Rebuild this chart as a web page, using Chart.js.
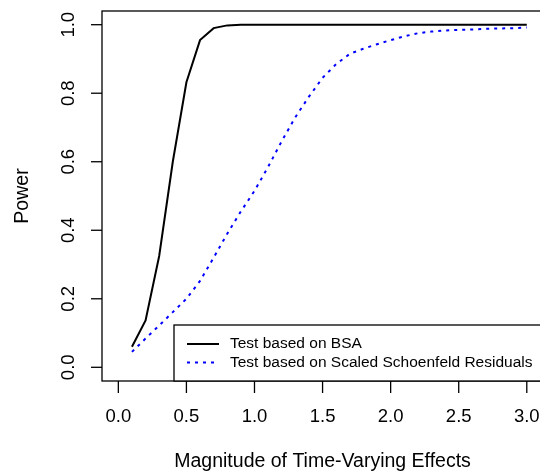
<!DOCTYPE html>
<html>
<head>
<meta charset="utf-8">
<script src="https://cdn.jsdelivr.net/npm/chart.js@4"></script>
<style>
  html, body { margin: 0; padding: 0; background: #fff; }
  #wrap { width: 540px; height: 474px; }
</style>
</head>
<body>
<div id="wrap"><canvas id="myChart" width="540" height="474"></canvas></div>
<script>
// effect sizes (x) and power for each test
const magnitudes = [0.1, 0.2, 0.3, 0.4, 0.5, 0.6, 0.7, 0.8, 0.9, 1.0,
  1.1, 1.2, 1.3, 1.4, 1.5, 1.6, 1.7, 1.8, 1.9, 2.0,
  2.1, 2.2, 2.3, 2.4, 2.5, 2.6, 2.7, 2.8, 2.9, 3.0];
const bsaPower = [0.06, 0.137, 0.325, 0.6, 0.832, 0.955, 0.99, 0.998, 1, 1,
  1, 1, 1, 1, 1, 1, 1, 1, 1, 1,
  1, 1, 1, 1, 1, 1, 1, 1, 1, 1];
const schoenfeldPower = [0.045, 0.084, 0.122, 0.161, 0.2, 0.252, 0.32, 0.39, 0.455, 0.515,
  0.585, 0.66, 0.73, 0.79, 0.845, 0.885, 0.915, 0.93, 0.943, 0.955,
  0.966, 0.975, 0.98, 0.983, 0.985, 0.986, 0.988, 0.989, 0.99, 0.992];
const seriesNames = ['Test based on BSA', 'Test based on Scaled Schoenfeld Residuals'];
const xTickLabels = ['0.0', '0.5', '1.0', '1.5', '2.0', '2.5', '3.0'];
const yTickLabels = ['0.0', '0.2', '0.4', '0.6', '0.8', '1.0'];
const xTitle = 'Magnitude of Time-Varying Effects';
const yTitle = 'Power';

const FONT = '"Liberation Sans", Arial, sans-serif';

function toPoints(ys) {
  return magnitudes.map((x, i) => ({ x: x, y: ys[i] }));
}

// R-style frame, axes, titles and legend
const baseGraphics = {
  id: 'baseGraphics',
  afterDraw(chart) {
    const ctx = chart.ctx;
    const xs = chart.scales.x;
    const ys = chart.scales.y;
    const left = xs.getPixelForValue(xs.min);
    const right = xs.getPixelForValue(-0.12 + 3.24);
    const top = ys.getPixelForValue(ys.max);
    const bottom = ys.getPixelForValue(ys.min);
    ctx.save();
    ctx.strokeStyle = '#000';
    ctx.lineWidth = 1.3;
    ctx.strokeRect(left, top, right - left, bottom - top);

    // x axis
    ctx.fillStyle = '#000';
    ctx.font = '18.5px ' + FONT;
    ctx.textAlign = 'center';
    ctx.textBaseline = 'middle';
    xTickLabels.forEach(lab => {
      const px = xs.getPixelForValue(parseFloat(lab));
      ctx.beginPath();
      ctx.moveTo(px, bottom);
      ctx.lineTo(px, bottom + 12);
      ctx.stroke();
      ctx.fillText(lab, px, bottom + 36);
    });

    // y axis
    yTickLabels.forEach(lab => {
      const py = ys.getPixelForValue(parseFloat(lab));
      ctx.beginPath();
      ctx.moveTo(left, py);
      ctx.lineTo(left - 11, py);
      ctx.stroke();
      ctx.save();
      ctx.translate(left - 33, py);
      ctx.rotate(-Math.PI / 2);
      ctx.fillText(lab, 0, 0);
      ctx.restore();
    });

    // titles
    ctx.font = '19.5px ' + FONT;
    ctx.fillText(xTitle, (left + right) / 2, bottom + 81);
    ctx.save();
    ctx.translate(left - 79, (top + bottom) / 2);
    ctx.rotate(-Math.PI / 2);
    ctx.fillText(yTitle, 0, 0);
    ctx.restore();

    // legend
    const lx = 174, ly = 325;
    ctx.fillStyle = '#fff';
    ctx.fillRect(lx, ly, right - lx, bottom - ly);
    ctx.strokeRect(lx, ly, right - lx, bottom - ly);
    ctx.font = '15.5px ' + FONT;
    ctx.textAlign = 'left';
    chart.data.datasets.forEach((ds, i) => {
      const ry = 344 + i * 18.5;
      ctx.strokeStyle = ds.borderColor;
      ctx.lineWidth = ds.borderWidth;
      ctx.setLineDash(ds.borderDash || []);
      ctx.beginPath();
      ctx.moveTo(187, ry);
      ctx.lineTo(219, ry);
      ctx.stroke();
      ctx.setLineDash([]);
      ctx.fillStyle = '#000';
      ctx.fillText(ds.label, 230, ry);
    });
    ctx.restore();
  }
};

const config = {
  type: 'line',
  data: {
    datasets: [
      {
        label: seriesNames[0],
        data: toPoints(bsaPower),
        borderColor: '#000000',
        borderWidth: 2,
        pointRadius: 0,
        tension: 0,
        fill: false
      },
      {
        label: seriesNames[1],
        data: toPoints(schoenfeldPower),
        borderColor: '#0000ff',
        borderWidth: 2,
        borderDash: [3, 5],
        pointRadius: 0,
        tension: 0,
        fill: false
      }
    ]
  },
  options: {
    responsive: false,
    animation: false,
    layout: { padding: { left: 102, top: 11, right: 0, bottom: 93 } },
    plugins: {
      legend: { display: false },
      tooltip: { enabled: false }
    },
    scales: {
      x: { type: 'linear', min: -0.12, max: 3.097, display: false },
      y: { type: 'linear', min: -0.04, max: 1.04, display: false }
    }
  },
  plugins: [baseGraphics]
};

const myChart = new Chart(document.getElementById('myChart'), config);
</script>
</body>
</html>
